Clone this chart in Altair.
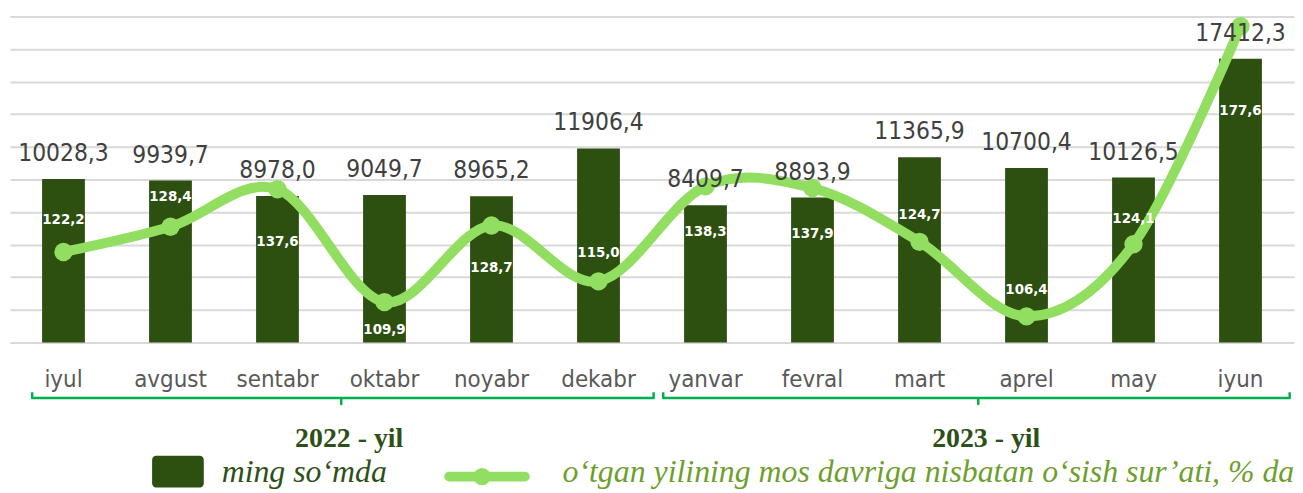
import altair as alt
import pandas as pd

# ---------------- data ----------------
months = ["iyul", "avgust", "sentabr", "oktabr", "noyabr", "dekabr",
          "yanvar", "fevral", "mart", "aprel", "may", "iyun"]
amount = [10028.3, 9939.7, 8978.0, 9049.7, 8965.2, 11906.4,
          8409.7, 8893.9, 11365.9, 10700.4, 10126.5, 17412.3]
growth = [122.2, 128.4, 137.6, 109.9, 128.7, 115.0,
          138.3, 137.9, 124.7, 106.4, 124.1, 177.6]
years = ["2022 - yil", "2023 - yil"]
year_first = ["iyul", "yanvar"]
year_mid = ["oktabr", "aprel"]
year_last = ["dekabr", "iyun"]
legend_labels = ["ming so\u2018mda",
                 "o\u2018tgan yilining mos davriga nisbatan o\u2018sish sur\u2019ati, % da"]

# ---------------- styling ----------------
BAR = "#2D4F0F"
LINE = "#92DE60"
GRID = "#D9D9D9"
BRACE = "#00B050"
SANS = "DejaVu Sans Condensed, DejaVu Sans"
SERIF = "Liberation Serif"
PLOT_H = 328
G_DOMAIN = [100, 180]
# pixel shift of each growth label from its point (negative = above)
growth_label_shift = [-33, -31, 52, 27, 42, -29, 45, 45, -28, -28, -26, 84]
# brace offsets (pixels from the left edge of the bar band)
brace_off = {"first": [-10, -21], "mid": [-22, -27], "last": [77, 71]}
brace_y = {"up": 378, "line": 384, "down": 390}
year_off = [-14, -19]


def fmt(v):
    return f"{v:.1f}".replace(".", ",")


df = pd.DataFrame({
    "month": months,
    "amount": amount,
    "growth": growth,
    "amount_txt": [fmt(v) for v in amount],
    "growth_txt": [fmt(v) for v in growth],
    "shift": growth_label_shift,
})

brace_rows = []
for i, yr in enumerate(years):
    path = [
        (year_first[i], brace_off["first"][i], brace_y["up"]),
        (year_first[i], brace_off["first"][i], brace_y["line"]),
        (year_mid[i], brace_off["mid"][i], brace_y["line"]),
        (year_mid[i], brace_off["mid"][i], brace_y["down"]),
        (year_mid[i], brace_off["mid"][i], brace_y["line"]),
        (year_last[i], brace_off["last"][i], brace_y["line"]),
        (year_last[i], brace_off["last"][i], brace_y["up"]),
    ]
    for k, (m, off, py) in enumerate(path):
        brace_rows.append({"year": yr, "month": m, "off": off, "py": py, "k": k})
brace_df = pd.DataFrame(brace_rows)

year_df = pd.DataFrame({"year": years, "month": year_mid, "off": year_off})

xdef = alt.X(
    "month:N", sort=months,
    scale=alt.Scale(paddingInner=0.6, paddingOuter=0.3),
    axis=alt.Axis(title=None, labelAngle=0, ticks=False, domain=False, grid=False,
                  labelFont=SANS, labelFontSize=24, labelColor="#595959",
                  labelBaseline="alphabetic", labelPadding=44),
)
ybar = alt.Y(
    "amount:Q",
    scale=alt.Scale(domain=[0, 20000], nice=False, zero=True),
    axis=alt.Axis(title=None, labels=False, ticks=False, domain=False,
                  values=list(range(0, 20001, 2000)), gridColor=GRID, gridWidth=2),
)
gscale = alt.Scale(domain=G_DOMAIN, nice=False, zero=False)

base = alt.Chart(df)

bars = base.mark_bar(color=BAR).encode(x=xdef, y=ybar)
bar_text = base.mark_text(font=SANS, fontSize=24.5, color="#404040",
                          baseline="alphabetic", dy=-18).encode(
    x=xdef, y=alt.Y("amount:Q", scale=alt.Scale(domain=[0, 20000], nice=False), axis=None),
    text="amount_txt:N")

line = base.mark_line(color=LINE, strokeWidth=10, interpolate="cardinal",
                      strokeCap="round").encode(
    x=xdef, y=alt.Y("growth:Q", scale=gscale, axis=None))
pts = base.mark_point(filled=True, color=LINE, size=340, opacity=1).encode(
    x=xdef, y=alt.Y("growth:Q", scale=gscale, axis=None))

unit = (G_DOMAIN[1] - G_DOMAIN[0]) / PLOT_H
pct_text = base.transform_calculate(
    lab=f"datum.growth - datum.shift * {unit}"
).mark_text(font=SANS, fontSize=15, fontWeight="bold", color="white",
            baseline="middle").encode(
    x=xdef,
    y=alt.Y("lab:Q", scale=gscale, axis=None),
    text="growth_txt:N")

braces = alt.Chart(brace_df).mark_line(color=BRACE, strokeWidth=2.5,
                                       strokeJoin="round").encode(
    x=xdef,
    xOffset=alt.XOffset("off:Q", scale=None),
    y=alt.Y("py:Q", scale=None),
    detail="year:N",
    order="k:Q",
)

year_text = alt.Chart(year_df).mark_text(font=SERIF, fontSize=28, fontWeight="bold",
                                         color="#2D5016", baseline="alphabetic").encode(
    x=xdef,
    xOffset=alt.XOffset("off:Q", scale=None),
    y=alt.value(433),
    text="year:N",
)

leg_df = pd.DataFrame({"label": legend_labels})
leg_rect = alt.Chart(leg_df.iloc[[0]]).mark_rect(color=BAR, cornerRadius=4).encode(
    x=alt.value(143), x2=alt.value(195), y=alt.value(442), y2=alt.value(474))
leg_t1 = alt.Chart(leg_df.iloc[[0]]).mark_text(
    font=SERIF, fontSize=32, fontStyle="italic", color="#2D5016",
    align="left", baseline="alphabetic").encode(
    x=alt.value(213), y=alt.value(468), text="label:N")
leg_line = alt.Chart(leg_df.iloc[[1]]).mark_rule(color=LINE, strokeWidth=10,
                                                 strokeCap="round").encode(
    x=alt.value(442), x2=alt.value(518), y=alt.value(463))
leg_pt = alt.Chart(leg_df.iloc[[1]]).mark_point(filled=True, color=LINE, size=300,
                                                opacity=1).encode(
    x=alt.value(475), y=alt.value(463))
leg_t2 = alt.Chart(leg_df.iloc[[1]]).mark_text(
    font=SERIF, fontSize=32, fontStyle="italic", color="#6E9F2C",
    align="left", baseline="alphabetic").encode(
    x=alt.value(556), y=alt.value(468), text="label:N")

chart = alt.layer(
    bars, line, pts, bar_text, pct_text, braces, year_text,
    leg_rect, leg_t1, leg_line, leg_pt, leg_t2,
).resolve_scale(y="independent").properties(
    width=1292, height=PLOT_H,
    autosize=alt.AutoSizeParams(type="none"),
    padding={"left": 2, "top": 7, "right": 1, "bottom": 153},
).configure_view(stroke=None)

chart.save("out.html", embed_options={"renderer": "svg", "actions": False})
